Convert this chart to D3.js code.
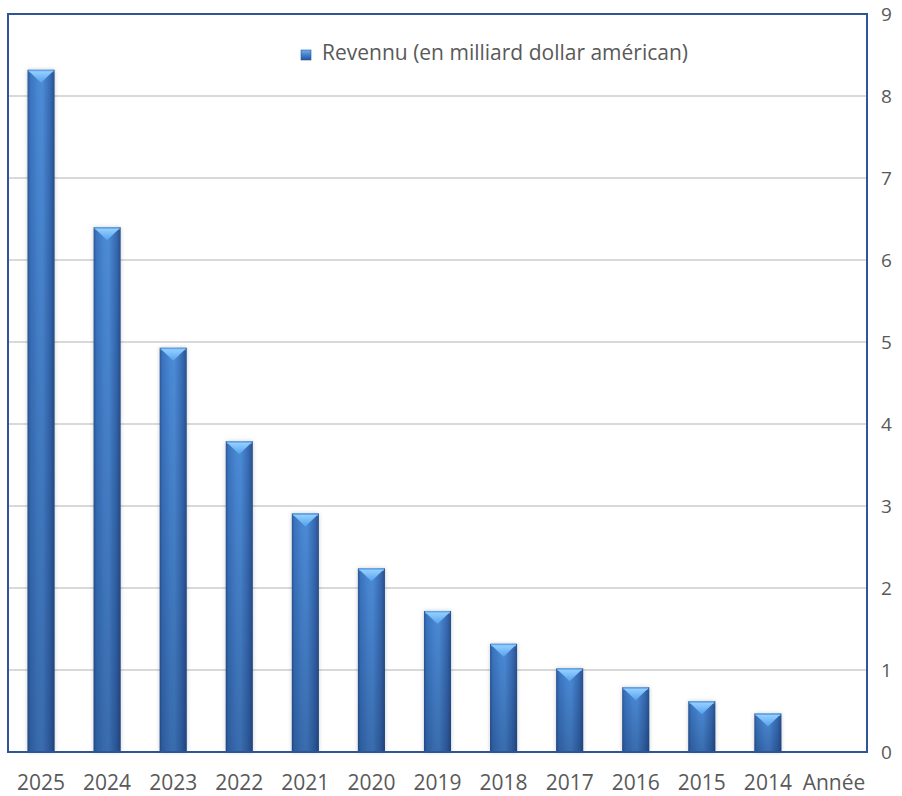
<!DOCTYPE html>
<html>
<head>
<meta charset="utf-8">
<script src="https://cdn.jsdelivr.net/npm/d3@7"></script>
<style>
  html, body { margin: 0; padding: 0; background: #ffffff; }
  svg { display: block; }
  text { font-family: "Open Sans", sans-serif; fill: #595959; }
</style>
</head>
<body>
<svg id="chart" width="902" height="796"></svg>
<script>
// Revenue per year, in billions of US dollars
const years = ["2025", "2024", "2023", "2022", "2021", "2020", "2019", "2018", "2017", "2016", "2015", "2014", "Année"];
const revenue = [8.32, 6.40, 4.93, 3.79, 2.91, 2.24, 1.72, 1.32, 1.02, 0.79, 0.62, 0.47, null];
const yTicks = [0, 1, 2, 3, 4, 5, 6, 7, 8, 9];
const legendLabel = "Revennu (en milliard dollar américan)";

const svg = d3.select("#chart");
const plot = { left: 8, right: 867, top: 14, bottom: 752 };

const x = d3.scaleBand()
  .domain(years)
  .range([plot.left, plot.right])
  .paddingInner(0.59)
  .paddingOuter(0.295);

const y = d3.scaleLinear()
  .domain([0, 9])
  .range([plot.bottom, plot.top]);

const defs = svg.append("defs");

// Horizontal shading across each bar: dark edges, lighter middle
const body = defs.append("linearGradient").attr("id", "barBody")
  .attr("x1", "0%").attr("x2", "100%").attr("y1", "0%").attr("y2", "0%");
[["0%", "#2b5796"], ["10%", "#3a74bf"], ["40%", "#4a88d4"], ["55%", "#4c8bd6"], ["85%", "#3669b1"], ["100%", "#28508c"]]
  .forEach(([o, c]) => body.append("stop").attr("offset", o).attr("stop-color", c));

// Darkening towards the foot of each bar
const foot = defs.append("linearGradient").attr("id", "barFoot")
  .attr("x1", "0%").attr("x2", "0%").attr("y1", "0%").attr("y2", "100%");
[["0%", "#0a1e46", 0], ["100%", "#0a1e46", 0.28]]
  .forEach(([o, c, a]) => foot.append("stop").attr("offset", o).attr("stop-color", c).attr("stop-opacity", a));

// Bevelled cap on top of each bar
const cap = defs.append("linearGradient").attr("id", "barCap")
  .attr("x1", "0%").attr("x2", "0%").attr("y1", "0%").attr("y2", "100%");
[["0%", "#94d0ff"], ["100%", "#55a2ec"]]
  .forEach(([o, c]) => cap.append("stop").attr("offset", o).attr("stop-color", c));

const legendGrad = defs.append("linearGradient").attr("id", "legendGrad")
  .attr("x1", "0%").attr("x2", "0%").attr("y1", "0%").attr("y2", "100%");
[["0%", "#6fb0f0"], ["50%", "#3f7fcc"], ["100%", "#2a5597"]]
  .forEach(([o, c]) => legendGrad.append("stop").attr("offset", o).attr("stop-color", c));

const shadow = defs.append("filter").attr("id", "barShadow")
  .attr("x", "-40%").attr("y", "-10%").attr("width", "180%").attr("height", "120%");
shadow.append("feDropShadow")
  .attr("dx", 0).attr("dy", 0).attr("stdDeviation", 2)
  .attr("flood-color", "#000000").attr("flood-opacity", 0.2);

// Gridlines
svg.append("g")
  .selectAll("line")
  .data(yTicks.filter(t => t > 0 && t < 9))
  .join("line")
  .attr("x1", plot.left).attr("x2", plot.right)
  .attr("y1", d => y(d)).attr("y2", d => y(d))
  .attr("stroke", "#d9d9d9").attr("stroke-width", 2);

// Category axis line at zero
svg.append("line")
  .attr("x1", plot.left).attr("x2", plot.right)
  .attr("y1", y(0)).attr("y2", y(0))
  .attr("stroke", "#c8c8c8").attr("stroke-width", 2);

// Bars
const barData = years.map((c, i) => ({ c, v: revenue[i] })).filter(d => d.v != null);
const bars = svg.append("g").selectAll("g").data(barData).join("g");

bars.append("rect")
  .attr("x", d => x(d.c))
  .attr("y", d => y(d.v))
  .attr("width", x.bandwidth())
  .attr("height", d => y(0) - y(d.v))
  .attr("fill", "url(#barBody)")
  .attr("filter", "url(#barShadow)");

bars.append("rect")
  .attr("x", d => x(d.c))
  .attr("y", d => y(d.v))
  .attr("width", x.bandwidth())
  .attr("height", d => y(0) - y(d.v))
  .attr("fill", "url(#barFoot)");

// top edge highlight strip
bars.append("rect")
  .attr("x", d => x(d.c) + 1)
  .attr("y", d => y(d.v))
  .attr("width", x.bandwidth() - 2)
  .attr("height", 2.5)
  .attr("fill", "#62a4e8");

bars.append("path")
  .attr("d", d => {
    const x0 = x(d.c), w = x.bandwidth(), t = y(d.v);
    const depth = Math.min(13, (y(0) - t) * 0.6);
    return `M${x0 + 1.5},${t + 1.5} L${x0 + w - 1.5},${t + 1.5} L${x0 + w / 2},${t + depth} Z`;
  })
  .attr("fill", "url(#barCap)");

// Plot frame
svg.append("rect")
  .attr("x", plot.left).attr("y", plot.top)
  .attr("width", plot.right - plot.left)
  .attr("height", plot.bottom - plot.top)
  .attr("fill", "none")
  .attr("stroke", "#2f5597").attr("stroke-width", 2);

// Value axis on the right
const yAxis = d3.axisRight(y).tickValues(yTicks).tickSize(0).tickPadding(14);
const yg = svg.append("g")
  .attr("transform", `translate(${plot.right},0)`)
  .call(yAxis);
yg.select(".domain").remove();
yg.selectAll("text")
  .attr("font-size", 19)
  .style("font-family", "'Open Sans', sans-serif")
  .attr("fill", "#595959");

// Category axis
const xAxis = d3.axisBottom(x).tickSize(0).tickPadding(23);
const xg = svg.append("g")
  .attr("transform", `translate(0,${plot.bottom})`)
  .call(xAxis);
xg.select(".domain").remove();
xg.selectAll("text")
  .attr("font-size", 21)
  .style("font-family", "'Open Sans', sans-serif")
  .attr("fill", "#595959");

// Legend
const legend = svg.append("g").attr("transform", "translate(301,50)");
legend.append("rect")
  .attr("width", 10).attr("height", 10)
  .attr("fill", "url(#legendGrad)")
  .attr("stroke", "#2a5597").attr("stroke-width", 0.6);
legend.append("text")
  .attr("x", 21).attr("y", 9.5)
  .attr("font-size", 21)
  .text(legendLabel);
</script>
</body>
</html>
